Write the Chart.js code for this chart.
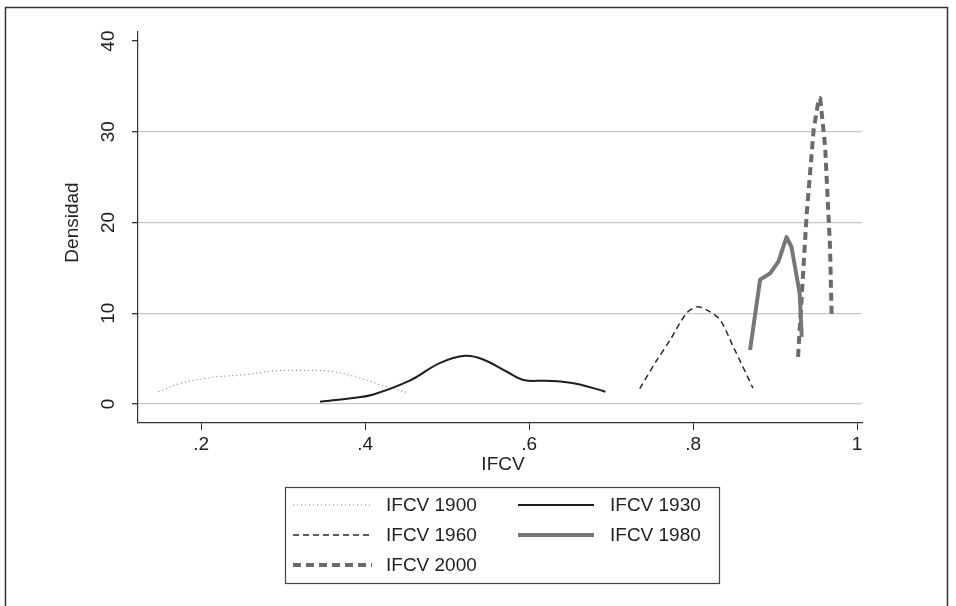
<!DOCTYPE html>
<html>
<head>
<meta charset="utf-8">
<script src="https://cdn.jsdelivr.net/npm/chart.js@4/dist/chart.umd.min.js"></script>
<style>
  html, body { margin: 0; padding: 0; background: #ffffff; }
  #wrap { width: 956px; height: 606px; }
</style>
</head>
<body>
<div id="wrap"><canvas id="c" width="956" height="606"></canvas></div>
<script>
// ---- data ----
const seriesNames = ['IFCV 1900', 'IFCV 1930', 'IFCV 1960', 'IFCV 1980', 'IFCV 2000'];

const ifcv1900X = [0.148, 0.174, 0.207, 0.219, 0.256, 0.288, 0.317, 0.357, 0.390, 0.414, 0.451];
const ifcv1900Y = [1.35, 2.25, 2.85, 3.00, 3.25, 3.65, 3.70, 3.60, 2.95, 2.25, 1.25];

const ifcv1930X = [0.345, 0.357, 0.385, 0.410, 0.455, 0.491, 0.522, 0.544, 0.573, 0.593, 0.620, 0.641, 0.662, 0.693];
const ifcv1930Y = [0.25, 0.35, 0.65, 1.05, 2.60, 4.50, 5.30, 4.90, 3.55, 2.65, 2.55, 2.45, 2.15, 1.35];

const ifcv1960X = [0.735, 0.756, 0.772, 0.792, 0.805, 0.817, 0.833, 0.849, 0.873];
const ifcv1960Y = [1.70, 4.85, 7.05, 10.0, 10.7, 10.35, 9.25, 6.30, 1.75];

const ifcv1980X = [0.8695, 0.8817, 0.894, 0.904, 0.914, 0.920, 0.930, 0.9325];
const ifcv1980Y = [5.95, 13.7, 14.4, 15.7, 18.4, 17.3, 12.2, 7.4];

const ifcv2000X = [0.928, 0.9386, 0.947, 0.953, 0.955, 0.961, 0.967, 0.969];
const ifcv2000Y = [5.2, 21.0, 30.2, 33.5, 33.7, 28.4, 17.3, 9.6];

const xTickValues = [0.2, 0.4, 0.6, 0.8, 1.0];
const xTickLabels = ['.2', '.4', '.6', '.8', '1'];
const yTickValues = [0, 10, 20, 30, 40];
const yTickLabels = ['0', '10', '20', '30', '40'];

const xTitle = 'IFCV';
const yTitle = 'Densidad';

// ---- build ----
function pts(xs, ys) { return xs.map((x, i) => ({ x: x, y: ys[i] })); }

const FONT = '"Liberation Sans", Arial, sans-serif';

const styles = [
  { borderColor: '#8a8a8a', borderWidth: 1.2, borderDash: [1, 3], tension: 0.4 },
  { borderColor: '#1e1e1e', borderWidth: 2, borderDash: [], tension: 0.4 },
  { borderColor: '#2a2a2a', borderWidth: 1.5, borderDash: [6, 4], tension: 0.3 },
  { borderColor: '#777777', borderWidth: 4, borderDash: [], tension: 0 },
  { borderColor: '#6a6a6a', borderWidth: 4, borderDash: [8, 5], tension: 0 }
];
const seriesData = [
  pts(ifcv1900X, ifcv1900Y),
  pts(ifcv1930X, ifcv1930Y),
  pts(ifcv1960X, ifcv1960Y),
  pts(ifcv1980X, ifcv1980Y),
  pts(ifcv2000X, ifcv2000Y)
];

const datasets = seriesNames.map((n, i) => Object.assign({
  label: n,
  data: seriesData[i],
  pointRadius: 0,
  fill: false,
  borderCapStyle: 'butt',
  borderJoinStyle: 'round'
}, styles[i]));

const decorPlugin = {
  id: 'decor',
  afterDraw(chart) {
    const ctx = chart.ctx;
    const ca = chart.chartArea;
    ctx.save();
    // outer frame
    ctx.strokeStyle = '#333';
    ctx.lineWidth = 1.5;
    ctx.beginPath();
    ctx.moveTo(5.5, 606);
    ctx.lineTo(5.5, 7.5);
    ctx.lineTo(947.5, 7.5);
    ctx.lineTo(947.5, 606);
    ctx.stroke();

    // axis titles
    ctx.fillStyle = '#222';
    ctx.font = '19px ' + FONT;
    ctx.textAlign = 'center';
    ctx.textBaseline = 'middle';
    ctx.fillText(xTitle, (ca.left + ca.right) / 2 + 3, 465);
    ctx.save();
    ctx.translate(73, chart.scales.y.getPixelForValue(20));
    ctx.rotate(-Math.PI / 2);
    ctx.fillText(yTitle, 0, 0);
    ctx.restore();

    // legend
    const bx = 285, by = 487, bw = 434, bh = 96;
    ctx.strokeStyle = '#444';
    ctx.lineWidth = 1.2;
    ctx.strokeRect(bx + 0.5, by + 0.5, bw, bh);
    const slots = [
      { x0: 293, x1: 372, tx: 386, y: 505 },
      { x0: 518, x1: 594, tx: 610, y: 505 },
      { x0: 293, x1: 372, tx: 386, y: 535 },
      { x0: 518, x1: 594, tx: 610, y: 535 },
      { x0: 293, x1: 372, tx: 386, y: 565 }
    ];
    chart.data.datasets.forEach((ds, i) => {
      const s = slots[i];
      ctx.save();
      ctx.strokeStyle = ds.borderColor;
      ctx.lineWidth = ds.borderWidth;
      ctx.setLineDash(ds.borderDash || []);
      ctx.beginPath();
      ctx.moveTo(s.x0, s.y);
      ctx.lineTo(s.x1, s.y);
      ctx.stroke();
      ctx.restore();
      ctx.fillStyle = '#222';
      ctx.font = '19px ' + FONT;
      ctx.textAlign = 'left';
      ctx.textBaseline = 'middle';
      ctx.fillText(ds.label, s.tx, s.y + 1);
    });
    ctx.restore();
  }
};

new Chart(document.getElementById('c'), {
  type: 'line',
  data: { datasets: datasets },
  plugins: [decorPlugin],
  options: {
    responsive: false,
    animation: false,
    devicePixelRatio: 1,
    layout: { padding: { left: 0, right: 94, top: 32, bottom: 0 } },
    plugins: { legend: { display: false }, tooltip: { enabled: false } },
    scales: {
      x: {
        type: 'linear',
        min: 0.123,
        max: 1.006,
        afterFit(s) { s.height = 183; },
        afterBuildTicks(s) { s.ticks = xTickValues.map(v => ({ value: v })); },
        grid: { display: true, drawOnChartArea: false, drawTicks: true, tickLength: 7, color: '#333', lineWidth: 1 },
        border: { display: true, color: '#333', width: 1.2 },
        ticks: {
          autoSkip: false,
          maxRotation: 0,
          padding: 3,
          color: '#222',
          font: { family: FONT, size: 19 },
          callback(v) { const i = xTickValues.indexOf(v); return i >= 0 ? xTickLabels[i] : ''; }
        }
      },
      y: {
        type: 'linear',
        min: -2.1,
        max: 41,
        afterFit(s) { s.width = 138; },
        afterBuildTicks(s) { s.ticks = yTickValues.map(v => ({ value: v })); },
        grid: {
          display: true,
          drawOnChartArea: true,
          drawTicks: true,
          tickLength: 6,
          color: ctx => (ctx.tick && ctx.tick.value === 40) ? 'rgba(0,0,0,0)' : '#c8c8c8',
          tickColor: '#333',
          lineWidth: 1.3
        },
        border: { display: true, color: '#333', width: 1.2 },
        ticks: {
          autoSkip: false,
          minRotation: 90,
          maxRotation: 90,
          crossAlign: 'center',
          padding: 13,
          color: '#222',
          font: { family: FONT, size: 19 },
          callback(v) { const i = yTickValues.indexOf(v); return i >= 0 ? yTickLabels[i] : ''; }
        }
      }
    }
  }
});
</script>
</body>
</html>
